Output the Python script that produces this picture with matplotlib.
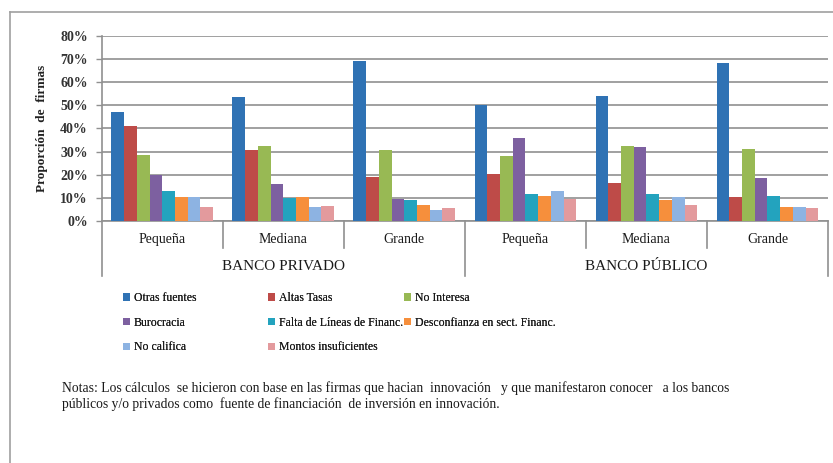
import matplotlib
matplotlib.use("Agg")
import matplotlib.pyplot as plt
import matplotlib.transforms as mtransforms
from matplotlib.patches import Patch
import numpy as np

plt.rcParams['font.family'] = ['Liberation Serif', 'DejaVu Serif']

sizes = ["Pequeña", "Mediana", "Grande", "Pequeña", "Mediana", "Grande"]
banks = ["BANCO PRIVADO", "BANCO PÚBLICO"]
series = ["Otras fuentes", "Altas Tasas", "No Interesa", "Burocracia",
          "Falta de Líneas de Financ.", "Desconfianza en sect. Financ.",
          "No califica", "Montos insuficientes"]
colors = ["#2F72B4", "#BE4B48", "#98B954", "#7D60A0",
          "#23A3BE", "#F68F3C", "#8DB3E2", "#E39A9D"]

otras        = [0.47, 0.535, 0.69, 0.50, 0.54, 0.68]
altas        = [0.41, 0.305, 0.19, 0.205, 0.165, 0.105]
no_interesa  = [0.285, 0.325, 0.305, 0.28, 0.325, 0.31]
burocracia   = [0.20, 0.16, 0.097, 0.36, 0.32, 0.187]
falta        = [0.13, 0.098, 0.092, 0.117, 0.117, 0.11]
desconfianza = [0.105, 0.105, 0.07, 0.11, 0.09, 0.06]
no_califica  = [0.105, 0.06, 0.048, 0.13, 0.104, 0.06]
montos       = [0.06, 0.066, 0.055, 0.096, 0.069, 0.056]
values = [otras, altas, no_interesa, burocracia, falta, desconfianza, no_califica, montos]

W, H = 833, 463
fig = plt.figure(figsize=(W/100, H/100), dpi=100)
ax = fig.add_axes([101.7/W, 1-221/H, (828-101.7)/W, (221-35.7)/H])

n = len(series)
bw = 0.105
x = np.arange(len(sizes)) + 0.5
for i, (vals, c) in enumerate(zip(values, colors)):
    ax.bar(x + (i - (n-1)/2) * bw, vals, width=bw, color=c, linewidth=0, zorder=3)

ax.set_xlim(0, 6)
ax.set_ylim(0, 0.8)
ax.set_yticks(np.arange(0, 0.81, 0.1))
ax.set_yticklabels([f"{int(round(v*100))}%" for v in np.arange(0, 0.81, 0.1)],
                   fontsize=10, fontweight='bold', color='#333333')
ax.yaxis.grid(True, color='#A0A0A0', linewidth=1.4, zorder=0)
ax.set_axisbelow(True)
ax.tick_params(axis='y', length=4, color='#909090', width=1, pad=6)
ax.tick_params(axis='x', length=0, labelbottom=False)
for s in ['top', 'right']:
    ax.spines[s].set_visible(False)
for s in ['left', 'bottom']:
    ax.spines[s].set_color('#909090')
    ax.spines[s].set_linewidth(1.2)

ax.set_ylabel("Proporción  de  firmas", fontsize=9.5, fontweight='bold',
              color='#222222')
ax.yaxis.set_label_coords(-0.074, 0.5)

trans = mtransforms.blended_transform_factory(ax.transData, ax.transAxes)
px = 1/185.3
inner_end = -(248-221)*px
outer_end = -(276-221)*px
for xb in [1, 2, 4, 5]:
    ax.plot([xb, xb], [0, inner_end], transform=trans, color='#909090', lw=1.2, clip_on=False)
for xb in [0, 3, 6]:
    ax.plot([xb, xb], [0, outer_end], transform=trans, color='#909090', lw=1.2, clip_on=False)

for xi, lab in zip(x, sizes):
    ax.text(xi, -(239-221)*px, lab, transform=trans, ha='center', va='center',
            fontsize=10, color='#1a1a1a')
for j, lab in enumerate(banks):
    ax.text(1.5 + 3*j, -(266-221)*px, lab, transform=trans, ha='center', va='center',
            fontsize=11, color='#1a1a1a')

# legend in three columns
handles = [Patch(facecolor=c, edgecolor='none') for c in colors]
cols = [[0, 3, 6], [1, 4, 7], [2, 5]]
col_x = [123, 268, 404]
for cx, idx in zip(col_x, cols):
    leg = fig.legend([handles[k] for k in idx], [series[k] for k in idx],
                     loc='upper left', bbox_to_anchor=(cx/W, 1-292/H),
                     frameon=False, fontsize=8.5, handlelength=0.6, handleheight=0.6,
                     handletextpad=0.3, labelspacing=1.08, borderpad=0, borderaxespad=0)
    for t in leg.get_texts():
        t.set_color('#1a1a1a')
    fig.add_artist(leg)

fig.text(62/W, 1-388/H,
         "Notas: Los cálculos  se hicieron con base en las firmas que hacian  innovación   y que manifestaron conocer   a los bancos",
         fontsize=9.8, color='#1a1a1a', va='center', ha='left')
fig.text(62/W, 1-404/H,
         "públicos y/o privados como  fuente de financiación  de inversión en innovación.",
         fontsize=9.8, color='#1a1a1a', va='center', ha='left')

# outer frame (left and top)
fig.add_artist(plt.Line2D([10/W, 10/W], [0, 1-12/H], color='#A0A0A0', lw=1.2))
fig.add_artist(plt.Line2D([10/W, 1], [1-12/H, 1-12/H], color='#A0A0A0', lw=1.2))

fig.savefig("out.png", dpi=100)
